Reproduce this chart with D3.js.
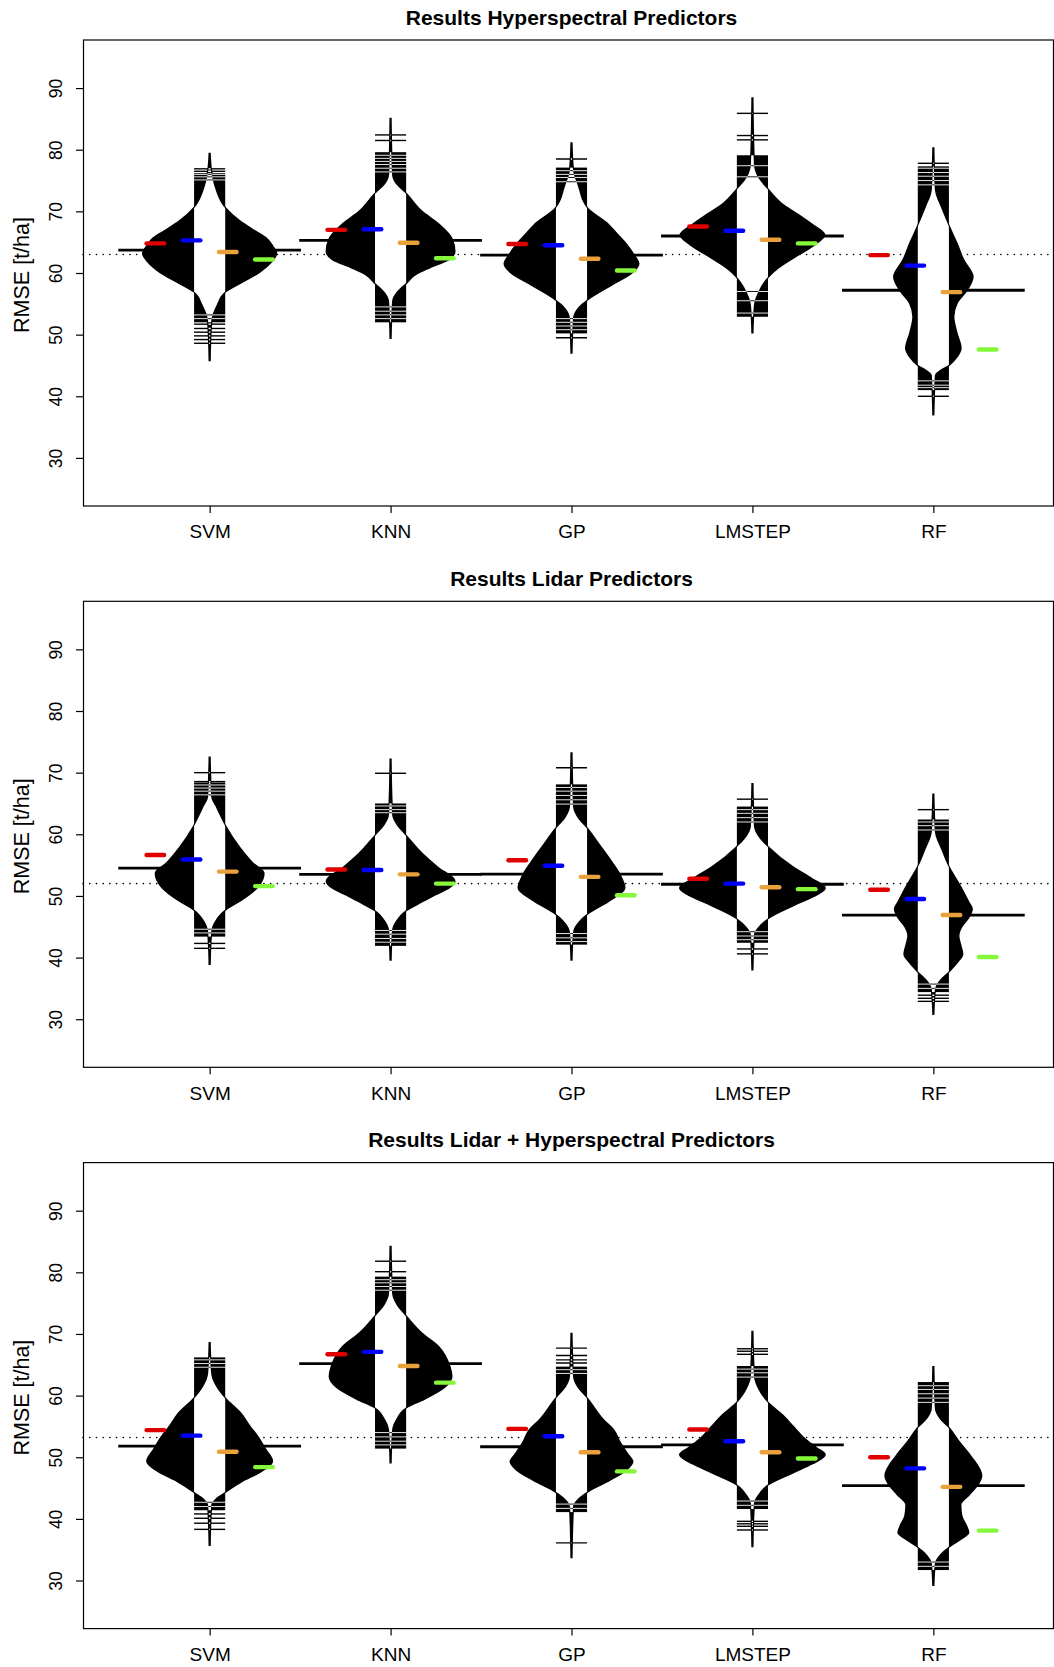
<!DOCTYPE html>
<html>
<head>
<meta charset="utf-8">
<script src="https://cdn.jsdelivr.net/npm/d3@7"></script>
<style>
  body { margin: 0; background: #fff; }
  text { font-family: "Liberation Sans", Arial, Helvetica, sans-serif; }
</style>
</head>
<body>
<script>
// ---- data ----
var categories = ["SVM", "KNN", "GP", "LMSTEP", "RF"];
var panelTitles = ["Results Hyperspectral Predictors", "Results Lidar Predictors", "Results Lidar + Hyperspectral Predictors"];
var yTicks = [30, 40, 50, 60, 70, 80, 90];

// dotted reference line per panel
var overallMean = [63.0, 52.0, 53.2];

// black bean average line
var beanMean = [
    [63.7, 65.3, 62.9, 66.0, 57.2],
    [54.5, 53.5, 53.55, 51.9, 46.9],
    [51.8, 65.2, 51.7, 52.0, 45.4]
];

// coloured markers, left to right in each bean
var redValues = [
    [64.8, 67.0, 64.7, 67.55, 62.9],
    [56.65, 54.3, 55.8, 52.8, 51.0],
    [54.4, 66.7, 54.6, 54.5, 50.0]
];
var blueValues = [
    [65.3, 67.1, 64.5, 66.85, 61.2],
    [55.9, 54.2, 54.9, 52.0, 49.5],
    [53.5, 67.1, 53.4, 52.6, 48.2]
];
var orangeValues = [
    [63.4, 64.9, 62.3, 65.4, 56.9],
    [53.95, 53.5, 53.1, 51.4, 46.9],
    [50.9, 64.8, 50.8, 50.8, 45.2]
];
var greenValues = [
    [62.2, 62.4, 60.4, 64.8, 47.6],
    [51.6, 52.0, 50.1, 51.1, 40.1],
    [48.4, 62.1, 47.7, 49.8, 38.1]
];

// range where the bean lines are so dense they merge
var denseRange = [
    [[52.0, 76.2], [52.0, 79.6], [50.2, 77.1], [52.9, 79.1], [41.0, 77.3]],
    [[43.4, 68.4], [41.9, 65.0], [42.1, 68.1], [42.4, 64.5], [34.4, 62.4]],
    [[41.4, 66.2], [51.4, 79.3], [41.1, 64.7], [41.6, 64.8], [31.7, 62.2]]
];

// single visible bean lines in the tails
var tailLines = [
    [[76.9, 76.5, 51.7, 51.0, 50.4, 49.8, 49.2, 48.6], [82.4, 81.5], [78.5, 49.5], [85.9, 82.3, 81.6], [77.8, 40.0]],
    [[70.0, 68.55, 42.3, 41.5], [69.9], [70.8], [65.7, 41.4, 40.6], [64.0, 33.9, 33.4, 32.9]],
    [[40.8, 40.1, 39.3, 38.3], [81.8, 80.1], [67.7, 66.5, 65.8, 65.3, 36.1], [67.6, 67.2, 66.7, 39.6, 39.2, 38.8, 38.2], []]
];

// thin gaps between bean lines near the ends of the dense range
var gapLines = [
    [[76.0, 75.6, 75.1, 52.6, 53.2], [79.1, 78.6, 78.1, 77.6, 77.0, 76.4, 52.6, 53.2, 53.8, 54.5], [76.6, 76.0, 75.5, 74.8, 50.8, 51.4, 52.0, 52.6], [77.4, 75.6, 57.0, 55.5, 53.5], [77.0, 76.3, 75.7, 75.0, 74.3, 42.5, 41.8, 41.4]],
    [[68.0, 67.5, 67.0, 66.4, 44.6, 44.0], [64.6, 64.0, 63.5, 42.5, 43.1, 43.8, 44.4], [67.6, 67.0, 66.3, 65.6, 64.9, 42.6, 43.2, 43.9], [64.0, 63.4, 62.7, 62.0, 42.9, 43.5, 44.2], [62.0, 61.4, 60.7, 35.0, 35.7]],
    [[65.8, 65.2, 64.6, 42.0, 42.7], [78.8, 78.3, 77.7, 77.1, 52.0, 52.6, 53.3, 54.0], [64.2, 63.6, 41.7, 42.4], [64.3, 63.7, 63.0, 42.2, 42.9], [61.6, 61.0, 60.3, 59.6, 58.9, 32.3, 33.0]]
];

// bean density profiles: [RMSE, relative density]
var densityHyper = [
    [[45.7,0],[52.1,1.5],[54.8,7],[57.0,15.7],[58.6,33],[60.2,50],[61.9,62],[63.2,66.7],[64.3,63],[65.7,56],[67.0,43],[68.4,30],[70.5,15.7],[74.0,5],[76.5,1.5],[79.5,0]],
    [[49.3,0],[55.4,1.5],[56.9,6],[58.4,15.7],[59.7,24],[60.9,39],[62.2,58],[63.5,64],[65.6,61],[67.9,48],[70.0,31],[72.8,15.7],[74.3,6],[75.9,1.5],[85.2,0]],
    [[46.9,0],[52.7,1.5],[54.3,6],[55.7,15.7],[58.1,40],[60.0,60],[61.5,67],[63.0,62],[64.6,55],[66.2,46],[67.8,37],[70.5,15.7],[74.3,6],[76.7,1.5],[81.2,0]],
    [[50.2,0],[54.8,1.5],[57.0,6],[59.4,15.7],[60.8,25],[62.4,40],[64.6,62],[66.2,72],[67.8,60],[69.5,45],[71.1,30],[73.5,15.7],[75.4,6],[77.6,1.5],[88.5,0]],
    [[36.9,0],[43.4,1.5],[44.3,7],[45.1,15.7],[46.4,23.3],[47.8,27.3],[50.2,23.3],[52.9,20],[55.1,23.3],[57.2,33.3],[59.4,39.3],[62.1,30],[64.8,23.3],[67.5,15.7],[70.5,8],[73.5,1.5],[80.4,0]]
];
var densityLidar = [
    [[38.8,0],[44.2,1.5],[46.1,6],[47.8,15.7],[49.2,30],[51.5,48],[53.7,54],[55.3,43],[57.8,30],[61.3,15.7],[64.5,6],[66.1,1.5],[72.6,0]],
    [[39.5,0],[44.5,1.5],[46.1,6],[47.7,15.7],[48.8,28],[50.2,44],[51.3,58],[52.4,64],[54.6,47],[56.9,31],[59.7,15.7],[61.5,6],[63.2,1.5],[72.3,0]],
    [[39.5,0],[44.1,1.5],[45.6,6],[47.1,15.7],[49.3,38],[51.3,53],[53.5,48],[55.5,40],[58.2,28],[60.9,15.7],[62.7,6],[64.5,1.5],[73.3,0]],
    [[37.9,0],[43.7,1.5],[45.0,6],[46.4,15.7],[47.5,28],[48.8,45],[50.3,65],[51.3,72.5],[52.7,60],[54.7,40],[57.9,15.7],[59.6,6],[61.3,1.5],[68.3,0]],
    [[30.7,0],[34.8,1.5],[36.3,6],[37.8,15.7],[39.3,24],[40.6,29],[42.0,27],[43.5,25],[45.0,28],[46.5,35],[47.9,38.5],[49.0,35],[51.5,27],[54.6,15.7],[57.5,8],[60.4,1.5],[66.6,0]]
];
var densityBoth = [
    [[35.6,0],[42.2,1.5],[43.3,6],[44.4,15.7],[46.1,32],[47.6,50],[48.3,57],[49.4,62.5],[51.2,56],[53.3,48],[55.0,40],[57.1,31],[59.5,15.7],[61.6,6],[63.6,1.5],[68.7,0]],
    [[49.0,0],[54.4,1.5],[56.3,6],[58.1,15.7],[59.5,34],[61.4,54],[63.1,61],[64.7,59],[67.9,48],[70.1,31],[72.8,15.7],[74.7,6],[76.6,1.5],[84.3,0]],
    [[33.6,0],[42.0,1.5],[43.2,6],[44.4,15.7],[46.3,38],[48.0,55],[49.3,61],[50.5,56],[52.5,48],[54.4,42],[56.0,32],[59.5,15.7],[61.3,6],[63.1,1.5],[70.2,0]],
    [[35.4,0],[42.5,1.5],[44.0,6],[45.6,15.7],[47.5,40],[49.0,60],[50.4,72.5],[51.5,64],[53.0,52],[54.9,41],[56.8,30],[58.8,15.7],[61.0,6],[63.2,1.5],[70.5,0]],
    [[29.1,0],[32.8,1.5],[34.1,6],[35.5,15.7],[36.7,27],[37.8,35],[38.8,33],[40.5,28],[42.3,27],[44.0,36],[45.5,44],[47.0,48],[50.2,37],[52.6,25],[54.7,15.7],[56.3,6],[57.9,1.5],[64.8,0]]
];
var densities = [densityHyper, densityLidar, densityBoth];

// ---- layout ----
var width = 1054, height = 1667;
var boxLeft = 83, boxRight = 1053.5;
var panelTop = 40, panelHeight = 466, panelStep = 561.3;

var svg = d3.select("body").append("svg")
    .attr("width", width)
    .attr("height", height);

var x = d3.scaleLinear()
    .domain([0.3, 5.7])
    .range([boxLeft, 1060]);
var unit = x(2) - x(1);

// max bean half width (beanplot maxwidth) and beanline half length
var halfWidth = d3.scaleLinear().domain([0, 72.5]).range([0, 0.4 * unit]);
var stripHalf = 0.086 * unit;

var markers = [
    {values: redValues, color: "#e00000", off: -0.3},
    {values: blueValues, color: "#0000ff", off: -0.1},
    {values: orangeValues, color: "#e9a23b", off: 0.1},
    {values: greenValues, color: "#86f83a", off: 0.3}
];

function drawPanel(p) {
    var yTop = panelTop + p * panelStep;
    var yBottom = yTop + panelHeight;

    var y = d3.scaleLinear()
        .domain([22.2, 97.8])
        .range([yBottom, yTop]);

    var g = svg.append("g").attr("class", "panel");

    // title
    g.append("text")
        .attr("x", (boxLeft + 1060) / 2)
        .attr("y", yTop - 15.5)
        .attr("text-anchor", "middle")
        .attr("font-size", "21px")
        .attr("font-weight", "bold")
        .text(panelTitles[p]);

    // dotted overall line
    g.append("line")
        .attr("x1", boxLeft)
        .attr("x2", boxRight)
        .attr("y1", y(overallMean[p]))
        .attr("y2", y(overallMean[p]))
        .attr("stroke", "#000")
        .attr("stroke-width", 1.6)
        .attr("stroke-linecap", "round")
        .attr("stroke-dasharray", "0.1 6.6");

    var beans = categories.map(function (c, i) {
        return {
            name: c,
            pos: i + 1,
            mean: beanMean[p][i],
            dens: densities[p][i],
            dense: denseRange[p][i],
            tails: tailLines[p][i],
            gaps: gapLines[p][i]
        };
    });

    // bean average lines
    g.selectAll(".mean-line")
        .data(beans)
        .enter().append("line")
        .attr("class", "mean-line")
        .attr("x1", d => x(d.pos - 0.505))
        .attr("x2", d => x(d.pos + 0.505))
        .attr("y1", d => y(d.mean))
        .attr("y2", d => y(d.mean))
        .attr("stroke", "#000")
        .attr("stroke-width", 2.8);

    var bean = g.selectAll(".bean")
        .data(beans)
        .enter().append("g")
        .attr("class", "bean");

    function beanArea(d) {
        return d3.area()
            .y(e => y(e[0]))
            .x0(e => x(d.pos) - halfWidth(e[1]))
            .x1(e => x(d.pos) + halfWidth(e[1]))
            .curve(d3.curveMonotoneY)(d.dens);
    }

    bean.append("clipPath")
        .attr("id", (d, i) => "clip-" + p + "-" + i)
        .append("path")
        .attr("d", beanArea);

    bean.append("path")
        .attr("d", beanArea)
        .attr("fill", "#000")
        .attr("stroke", "#000")
        .attr("stroke-width", 2.2);

    // beanlines: black outside the bean, white inside it
    ["#000", "#fff"].forEach(function (col) {
        var other = col === "#000" ? "#fff" : "#000";
        var layer = bean.append("g");
        if (col === "#fff") {
            layer.attr("clip-path", (d, i) => "url(#clip-" + p + "-" + i + ")");
        }
        layer.append("rect")
            .attr("x", d => x(d.pos) - stripHalf)
            .attr("width", 2 * stripHalf)
            .attr("y", d => y(d.dense[1]))
            .attr("height", d => y(d.dense[0]) - y(d.dense[1]))
            .attr("fill", col);
        layer.selectAll(".gap")
            .data(d => d.gaps.map(v => ({pos: d.pos, v: v})))
            .enter().append("line")
            .attr("class", "gap")
            .attr("x1", d => x(d.pos) - stripHalf)
            .attr("x2", d => x(d.pos) + stripHalf)
            .attr("y1", d => y(d.v))
            .attr("y2", d => y(d.v))
            .attr("stroke", other)
            .attr("stroke-width", 0.9);
        layer.selectAll(".tail")
            .data(d => d.tails.map(v => ({pos: d.pos, v: v})))
            .enter().append("line")
            .attr("class", "tail")
            .attr("x1", d => x(d.pos) - stripHalf)
            .attr("x2", d => x(d.pos) + stripHalf)
            .attr("y1", d => y(d.v))
            .attr("y2", d => y(d.v))
            .attr("stroke", col)
            .attr("stroke-width", 1.4);
    });

    // coloured markers
    markers.forEach(function (m) {
        g.selectAll(null)
            .data(m.values[p])
            .enter().append("line")
            .attr("x1", (d, i) => x(i + 1 + m.off) - 8.8)
            .attr("x2", (d, i) => x(i + 1 + m.off) + 8.8)
            .attr("y1", d => y(d))
            .attr("y2", d => y(d))
            .attr("stroke", m.color)
            .attr("stroke-width", 4.4)
            .attr("stroke-linecap", "round");
    });

    // box
    g.append("rect")
        .attr("x", boxLeft + 0.5)
        .attr("y", yTop)
        .attr("width", boxRight - boxLeft - 0.5)
        .attr("height", panelHeight)
        .attr("fill", "none")
        .attr("stroke", "#000")
        .attr("stroke-width", 1.2);

    // y axis
    var yAxis = g.append("g")
        .attr("transform", "translate(" + boxLeft + ",0)")
        .call(d3.axisLeft(y).tickValues(yTicks).tickSize(7).tickFormat(d3.format("d")));
    yAxis.select(".domain").remove();
    yAxis.selectAll("line").attr("stroke-width", 1.2);
    yAxis.selectAll("text")
        .attr("x", 0)
        .attr("dy", 0)
        .attr("text-anchor", "middle")
        .attr("transform", "translate(-21.5,0) rotate(-90)")
        .attr("font-size", "17.5px")
        .attr("fill", "#000");

    // x axis
    var xAxis = g.append("g")
        .attr("transform", "translate(0," + yBottom + ")")
        .call(d3.axisBottom(x).tickValues([1, 2, 3, 4, 5]).tickSize(7).tickPadding(12)
            .tickFormat(d => categories[d - 1]));
    xAxis.select(".domain").remove();
    xAxis.selectAll("line").attr("stroke-width", 1.2);
    xAxis.selectAll("text")
        .attr("font-size", "19px")
        .attr("fill", "#000");

    // y axis title
    g.append("text")
        .attr("transform", "translate(29," + (yTop + panelHeight / 2 + 2) + ") rotate(-90)")
        .attr("text-anchor", "middle")
        .attr("font-size", "21.5px")
        .text("RMSE [t/ha]");
}

for (var p = 0; p < 3; p++) {
    drawPanel(p);
}
</script>
</body>
</html>
